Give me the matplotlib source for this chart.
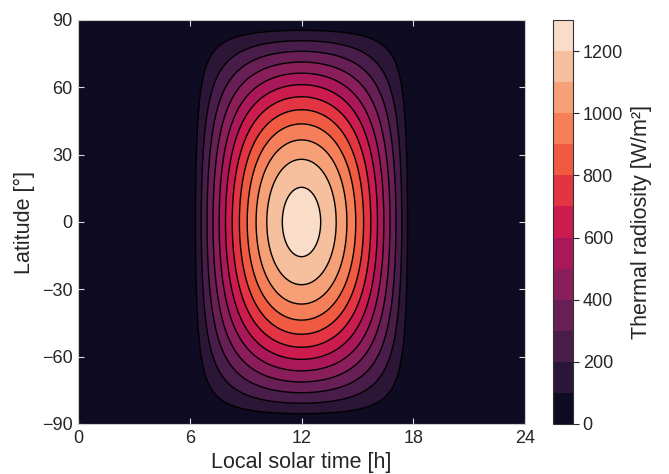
import numpy as np
import matplotlib
matplotlib.use("Agg")
import matplotlib.pyplot as plt
import seaborn as sns

plt.rcParams['font.family'] = ['Liberation Sans', 'DejaVu Sans']

# ---- data ----
# grid axes
local_time_h = np.linspace(0, 24, 481)
latitude_deg = np.linspace(-90, 90, 361)
# peak (subsolar) thermal radiosity, W/m^2
peak_radiosity = 1245.0
night_radiosity = 0.0
# contour levels and colourbar ticks
levels = list(range(0, 1301, 100))
line_levels = list(range(100, 1201, 100))
x_ticks = [0, 6, 12, 18, 24]
y_ticks = [-90, -60, -30, 0, 30, 60, 90]
cbar_ticks = [0, 200, 400, 600, 800, 1000, 1200]

# radiative-equilibrium radiosity: proportional to cosine of solar zenith angle
T, L = np.meshgrid(local_time_h, latitude_deg)
hour_angle = np.deg2rad((T - 12.0) * 15.0)
cosz = np.cos(np.deg2rad(L)) * np.cos(hour_angle)
radiosity = np.where(cosz > 0, peak_radiosity * cosz, night_radiosity)

cmap = sns.color_palette("rocket", as_cmap=True)

fig = plt.figure(figsize=(6.69, 4.74), dpi=100)
ax = fig.add_axes([78/669, 50/474, 447/669, 404/474])
cax = fig.add_axes([553/669, 50/474, 20/669, 404/474])

cf = ax.contourf(T, L, radiosity, levels=levels, cmap=cmap)
ax.contour(T, L, radiosity, levels=line_levels, colors='black', linewidths=1.0)

ax.set_xlim(0, 24)
ax.set_ylim(-90, 90)
ax.set_xticks(x_ticks)
ax.set_yticks(y_ticks)
ax.set_yticklabels([f"{v}".replace('-', '\u2212') for v in y_ticks])
ax.tick_params(direction='in', length=4, width=0.8, color='#dddddd',
               labelcolor='#262626', labelsize=13, top=True, right=True, pad=4)
for s in ax.spines.values():
    s.set_color('#cccccc')
    s.set_linewidth(0.8)
ax.set_xlabel("Local solar time [h]", fontsize=15.5, color='#262626', labelpad=4)
ax.set_ylabel("Latitude [°]", fontsize=15.5, color='#262626', labelpad=5)

cb = fig.colorbar(cf, cax=cax)
cb.set_ticks(cbar_ticks)
cb.ax.tick_params(direction='out', length=4, width=0.8, color='#262626',
                  labelcolor='#262626', labelsize=13, pad=3)
cb.outline.set_edgecolor('#333333')
cb.outline.set_linewidth(0.8)
cb.set_label("Thermal radiosity [W/m²]", fontsize=15.5, color='#262626', labelpad=6)

fig.savefig("out.png", dpi=100)
